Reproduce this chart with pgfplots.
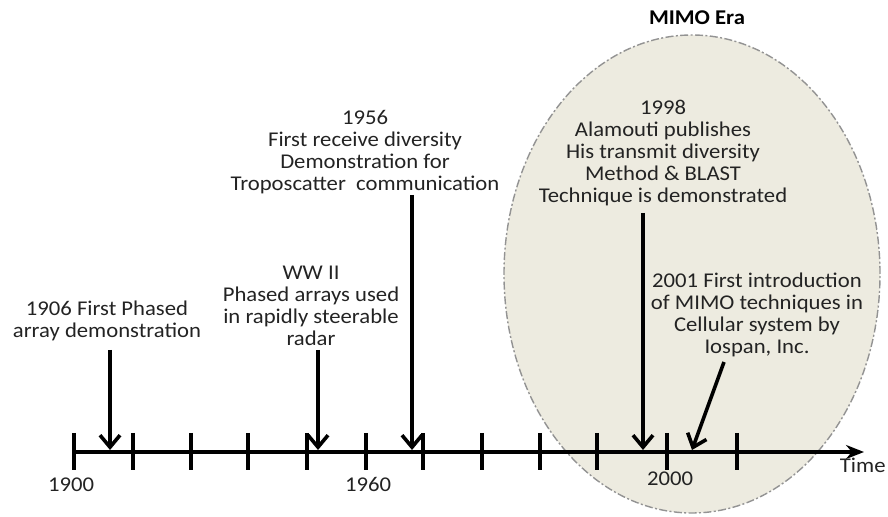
\documentclass[border=0pt]{standalone}
\usepackage{pgfplots}
\pgfplotsset{compat=1.18}
\usepackage{graphicx}
\usepackage{fontspec}
\setmainfont{Carlito}
\usetikzlibrary{arrows.meta}
\definecolor{ellfill}{RGB}{237,235,224}
\definecolor{txt}{RGB}{35,35,35}
\newcommand{\evt}[1]{\scalebox{1.08}[1]{\begin{tabular}{@{}c@{}}#1\end{tabular}}}
\begin{document}
\begin{tikzpicture}
\begin{axis}[hide axis, scale only axis, width=444pt, height=258.5pt,
  xmin=0, xmax=888, ymin=0, ymax=517, y dir=reverse, clip=false]
\draw[fill=ellfill, draw=gray!85, line width=0.7pt, dash pattern=on 4pt off 1.2pt on 1pt off 1.2pt]
  (axis cs:692,274) ellipse [x radius=94pt, y radius=119.5pt];
% timeline
\addplot[line width=1.6pt, black, -{Stealth[length=9pt,width=7pt]}] coordinates {(74,452) (864,452)};
% ticks
\foreach \xx in {74,133,191,248,307,366,423,482,540,597,667,737}{
  \edef\tmp{\noexpand\addplot[line width=1.6pt, black] coordinates {(\xx,433) (\xx,470)};}\tmp
}
% event arrows
\addplot[line width=1.8pt, black, -{Straight Barb[length=6pt,width=10pt,line width=1.8pt]}] coordinates {(110,350) (110,450)};
\addplot[line width=1.8pt, black, -{Straight Barb[length=6pt,width=10pt,line width=1.8pt]}] coordinates {(318,350) (318,450)};
\addplot[line width=1.8pt, black, -{Straight Barb[length=6pt,width=10pt,line width=1.8pt]}] coordinates {(412,195) (412,450)};
\addplot[line width=1.8pt, black, -{Straight Barb[length=6pt,width=10pt,line width=1.8pt]}] coordinates {(643,213) (643,450)};
\addplot[line width=1.8pt, black, -{Straight Barb[length=6pt,width=10pt,line width=1.8pt]}] coordinates {(724,362) (692,450)};
% labels
\tikzset{ev/.style={align=center, text=txt, font=\fontsize{10.5}{11}\selectfont, inner sep=0pt}}
\node[ev] at (axis cs:107,322) {\evt{1906 First Phased\\array demonstration}};
\node[ev] at (axis cs:311,308) {\evt{WW II\\Phased arrays used\\in rapidly steerable\\radar}};
\node[ev] at (axis cs:365,153) {\evt{1956\\First receive diversity\\Demonstration for\\Troposcatter\ \ communication}};
\node[ev] at (axis cs:663,154) {\evt{1998\\Alamouti publishes\\His transmit diversity\\Method \& BLAST\\Technique is demonstrated}};
\node[ev] at (axis cs:757,316) {\evt{2001 First introduction\\of MIMO techniques in\\Cellular system by\\Iospan, Inc.}};
\node[ev, font=\fontsize{10.5}{11}\selectfont\bfseries, text=black] at (axis cs:697,20) {\evt{MIMO Era}};
\node[ev] at (axis cs:71,487) {\evt{1900}};
\node[ev] at (axis cs:368,487) {\evt{1960}};
\node[ev] at (axis cs:670,481) {\evt{2000}};
\node[ev, anchor=east] at (axis cs:886,468) {\evt{Time}};
\end{axis}
\pgfresetboundingbox
\path (current axis.south west) rectangle (current axis.north east);
\end{tikzpicture}
\end{document}
